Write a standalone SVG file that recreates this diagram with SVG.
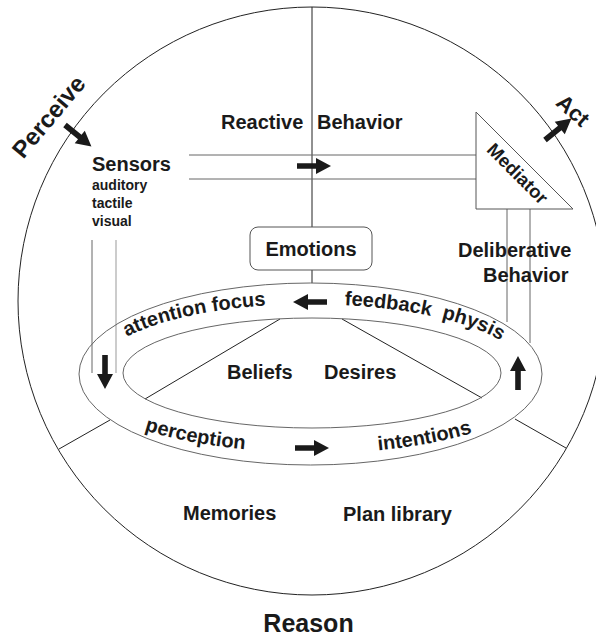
<svg xmlns="http://www.w3.org/2000/svg" width="596" height="637" viewBox="0 0 596 637">
<style>
.lbl{font-family:"Liberation Sans",Arial,sans-serif;font-weight:bold;fill:#1a1a1a;font-size:20px}
.sm{font-size:14px}
.big{font-size:24px}
.ln{stroke:#222;stroke-width:1;fill:none}
.gl{stroke:#666;stroke-width:1;fill:none}
.lg{stroke:#aaa;stroke-width:1.2;fill:none}
.arr{fill:#1a1a1a}
</style>
<defs>
<path id="ar" d="M0,-2.8 L19,-2.8 L19,-8 L34,0 L19,8 L19,2.8 L0,2.8 Z"/>
<path id="pAtt" d="M118,342 A212,68 0 0,1 276,305" fill="none"/>
<path id="pFeed" d="M338,305 A212,68 0 0,1 506,344" fill="none"/>
<path id="pPer" d="M138,428 A240,79 0 0,0 252,450" fill="none"/>
<path id="pInt" d="M372,451 A240,79 0 0,0 478,431" fill="none"/>
</defs>
<rect width="596" height="637" fill="#fff"/>

<g id="world">
<circle cx="312" cy="301" r="294" class="ln" stroke-width="1.2"/>
</g>

<g id="connectors">
<line x1="312" y1="7" x2="312" y2="227" class="ln"/>
<line x1="312" y1="270" x2="312" y2="283" class="ln"/>
<line x1="189" y1="155" x2="476" y2="155" class="gl"/>
<line x1="189" y1="179" x2="476" y2="179" class="gl"/>
<line x1="92" y1="240" x2="92" y2="373" class="gl"/>
<line x1="116" y1="240" x2="116" y2="373" class="lg"/>
<line x1="507" y1="209" x2="507" y2="322" class="gl"/>
<line x1="530" y1="209" x2="530" y2="343" class="gl"/>
<line x1="280" y1="319" x2="145" y2="399" class="ln"/>
<line x1="342" y1="319" x2="482" y2="398" class="ln"/>
<line x1="110" y1="420" x2="59" y2="449" class="ln"/>
<line x1="515" y1="419" x2="566" y2="448" class="ln"/>
</g>

<g id="arrows" class="arr">
<use href="#ar" transform="translate(65,125) rotate(39)"/>
<use href="#ar" transform="translate(545,140) rotate(-39)"/>
<use href="#ar" transform="translate(297,166)"/>
<use href="#ar" transform="translate(327,302) rotate(180)"/>
<use href="#ar" transform="translate(295,448)"/>
<use href="#ar" transform="translate(105,355) rotate(90)"/>
<use href="#ar" transform="translate(518,390) rotate(-90)"/>
</g>

<g id="ring">
<ellipse cx="310.5" cy="374" rx="231.5" ry="91" class="gl" stroke="#444"/>
<ellipse cx="312" cy="373" rx="189" ry="55" class="gl" stroke="#444"/>
<text class="lbl"><textPath href="#pAtt" startOffset="50%" text-anchor="middle">attention focus</textPath></text>
<text class="lbl" xml:space="preserve"><textPath href="#pFeed" startOffset="50%" text-anchor="middle">feedback  physis</textPath></text>
<text class="lbl"><textPath href="#pPer" startOffset="50%" text-anchor="middle">perception</textPath></text>
<text class="lbl"><textPath href="#pInt" startOffset="50%" text-anchor="middle">intentions</textPath></text>
</g>

<g id="perceive">
<text class="lbl big" text-anchor="middle" transform="translate(55,122) rotate(-50)">Perceive</text>
</g>
<g id="act">
<text class="lbl" style="font-size:22px" text-anchor="middle" transform="translate(568,116) rotate(42)">Act</text>
</g>

<g id="sensors">
<text class="lbl" x="92" y="171">Sensors</text>
<text class="lbl sm" x="92" y="190">auditory</text>
<text class="lbl sm" x="92" y="208">tactile</text>
<text class="lbl sm" x="92" y="226">visual</text>
</g>

<g id="reactive">
<text class="lbl"><tspan x="221" y="129">Reactive</tspan><tspan x="317" y="129">Behavior</tspan></text>
</g>

<g id="mediator">
<polygon points="476,112 476,209 573,209" fill="#fff" stroke="#555" stroke-width="1"/>
<text class="lbl" style="font-size:18.5px" text-anchor="middle" transform="translate(513,178) rotate(45)">Mediator</text>
</g>

<g id="emotions">
<rect x="250" y="227" width="122" height="43" rx="8" fill="#fff" stroke="#555" stroke-width="1"/>
<text class="lbl" x="311" y="256" text-anchor="middle">Emotions</text>
</g>

<g id="deliberative">
<text class="lbl" x="458" y="257">Deliberative</text>
<text class="lbl" x="483" y="282">Behavior</text>
</g>

<g id="beliefs"><text class="lbl" x="227" y="379">Beliefs</text></g>
<g id="desires"><text class="lbl" x="324" y="379">Desires</text></g>
<g id="memories"><text class="lbl" x="183" y="520">Memories</text></g>
<g id="planlibrary"><text class="lbl" x="343" y="521">Plan library</text></g>
<g id="reason"><text class="lbl" style="font-size:25px" x="308.5" y="632" text-anchor="middle">Reason</text></g>
</svg>
